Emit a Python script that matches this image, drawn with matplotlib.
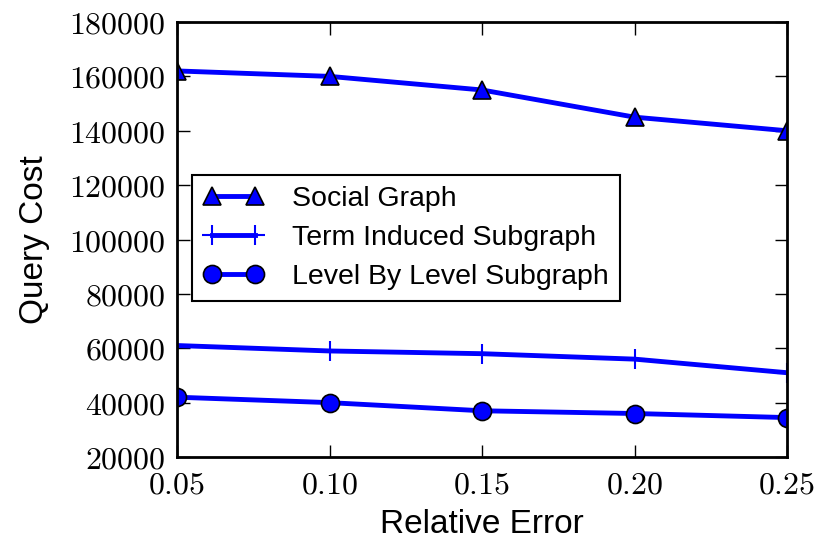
import matplotlib
matplotlib.use("Agg")
import matplotlib.pyplot as plt
from matplotlib.ticker import FuncFormatter

x = [0.05, 0.10, 0.15, 0.20, 0.25]
social = [162000, 160000, 155000, 145000, 140000]
term = [61000, 59000, 58000, 56000, 51000]
level = [42000, 40000, 37000, 36000, 34500]
labels = ["Social Graph", "Term Induced Subgraph", "Level By Level Subgraph"]
xticks = [0.05, 0.10, 0.15, 0.20, 0.25]
yticks = [20000, 40000, 60000, 80000, 100000, 120000, 140000, 160000, 180000]

plt.rcParams['mathtext.fontset'] = 'cm'
plt.rcParams['font.family'] = ['Liberation Sans', 'DejaVu Sans']

fig = plt.figure(figsize=(8.21, 5.44), dpi=100)
ax = fig.add_axes([177/821, 1-457/544, (787-177)/821, (457-22)/544])

ax.plot(x, social, color='#0000ff', lw=3.5, marker='^', ms=13, mec='black', mew=1.2, label=labels[0])
ax.plot(x, term, color='#0000ff', lw=3.5, marker='+', ms=14, mew=1.5, label=labels[1])
ax.plot(x, level, color='#0000ff', lw=3.5, marker='o', ms=13, mec='black', mew=1.2, label=labels[2])

ax.set_xlim(0.05, 0.25)
ax.set_ylim(20000, 180000)
ax.set_xticks(xticks)
ax.set_yticks(yticks)
ax.xaxis.set_major_formatter(FuncFormatter(lambda v, p: r'$%.2f$' % v))
ax.yaxis.set_major_formatter(FuncFormatter(lambda v, p: r'$%d$' % v))
ax.tick_params(direction='in', top=True, right=True, length=9, width=1, labelsize=23)
ax.tick_params(axis='x', pad=10)
ax.tick_params(axis='y', pad=8)
for s in ax.spines.values():
    s.set_linewidth(2)

ax.set_xlabel("Relative Error", fontsize=24, labelpad=6)
ax.set_ylabel("Query Cost", fontsize=24, labelpad=14)

leg = ax.legend(loc='upper left', bbox_to_anchor=((192-177)/610, (457-175)/435),
                borderaxespad=0, fontsize=20.5, numpoints=2, handlelength=2.1,
                handletextpad=1.0, fancybox=False, framealpha=1, edgecolor='black',
                labelspacing=0.45, borderpad=0.4)
leg.get_frame().set_linewidth(1.5)

fig.savefig("out.png", dpi=100)
